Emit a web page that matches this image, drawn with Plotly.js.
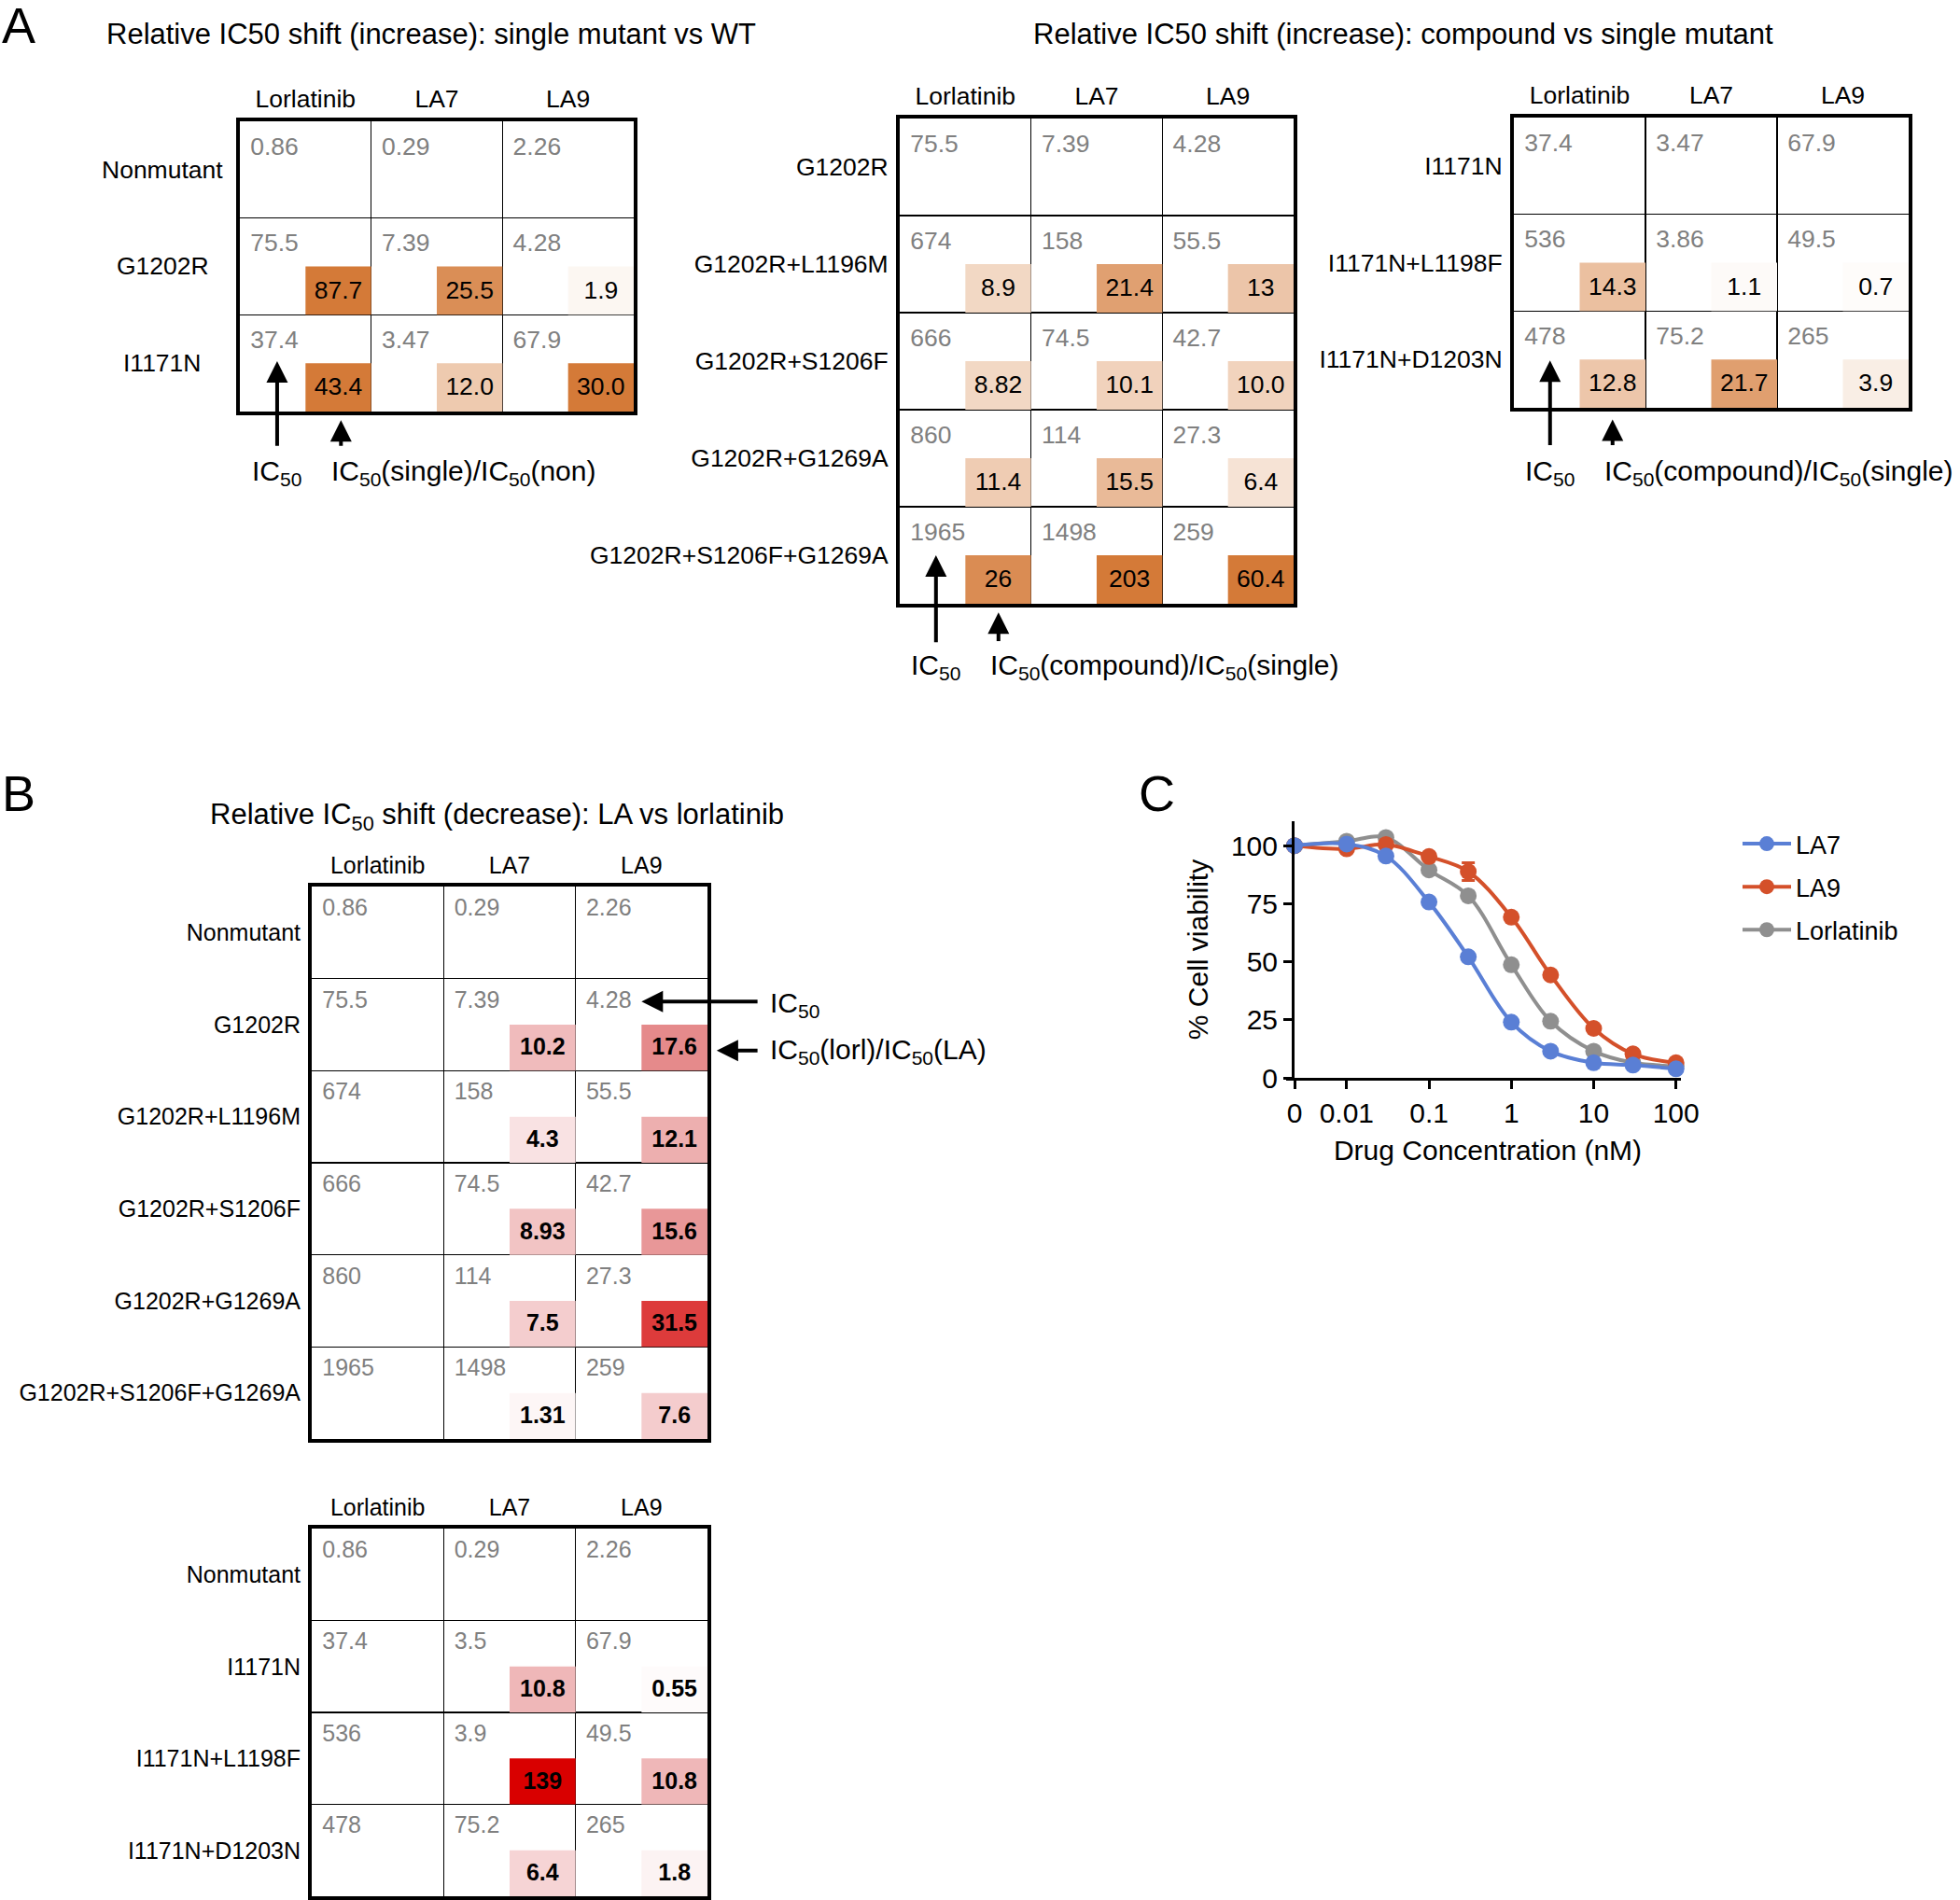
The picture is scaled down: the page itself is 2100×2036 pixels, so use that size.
<!DOCTYPE html>
<html><head><meta charset="utf-8">
<script src="https://cdn.plot.ly/plotly-3.0.1.min.js"></script>
<style>html,body{margin:0;padding:0;background:#fff}#chart{width:2100px;height:2036px}</style>
</head><body><div id="chart"></div><script>
// ---------------- DATA ----------------
const drugs = ['Lorlatinib', 'LA7', 'LA9'];

// Panel A (left): single mutant vs WT
const a1Rows = ['Nonmutant', 'G1202R', 'I1171N'];
const a1IC50 = [['0.86','0.29','2.26'], ['75.5','7.39','4.28'], ['37.4','3.47','67.9']];
const a1Ratio = [[null,null,null], ['87.7','25.5','1.9'], ['43.4','12.0','30.0']];

// Panel A (middle): compound vs single mutant (G1202R)
const a2Rows = ['G1202R', 'G1202R+L1196M', 'G1202R+S1206F', 'G1202R+G1269A', 'G1202R+S1206F+G1269A'];
const a2IC50 = [['75.5','7.39','4.28'], ['674','158','55.5'], ['666','74.5','42.7'], ['860','114','27.3'], ['1965','1498','259']];
const a2Ratio = [[null,null,null], ['8.9','21.4','13'], ['8.82','10.1','10.0'], ['11.4','15.5','6.4'], ['26','203','60.4']];

// Panel A (right): compound vs single mutant (I1171N)
const a3Rows = ['I1171N', 'I1171N+L1198F', 'I1171N+D1203N'];
const a3IC50 = [['37.4','3.47','67.9'], ['536','3.86','49.5'], ['478','75.2','265']];
const a3Ratio = [[null,null,null], ['14.3','1.1','0.7'], ['12.8','21.7','3.9']];

// Panel B (top): LA vs lorlatinib
const b1Rows = ['Nonmutant', 'G1202R', 'G1202R+L1196M', 'G1202R+S1206F', 'G1202R+G1269A', 'G1202R+S1206F+G1269A'];
const b1IC50 = [['0.86','0.29','2.26'], ['75.5','7.39','4.28'], ['674','158','55.5'], ['666','74.5','42.7'], ['860','114','27.3'], ['1965','1498','259']];
const b1Ratio = [[null,null,null], [null,'10.2','17.6'], [null,'4.3','12.1'], [null,'8.93','15.6'], [null,'7.5','31.5'], [null,'1.31','7.6']];

// Panel B (bottom)
const b2Rows = ['Nonmutant', 'I1171N', 'I1171N+L1198F', 'I1171N+D1203N'];
const b2IC50 = [['0.86','0.29','2.26'], ['37.4','3.5','67.9'], ['536','3.9','49.5'], ['478','75.2','265']];
const b2Ratio = [[null,null,null], [null,'10.8','0.55'], [null,'139','10.8'], [null,'6.4','1.8']];

// Panel C: dose response
const concNM = [0, 0.01, 0.03, 0.1, 0.3, 1, 3, 10, 30, 100];
const viabLA7 = [100, 100.7, 95.5, 75.7, 52.1, 24.0, 11.5, 6.5, 5.5, 3.9];
const viabLA9 = [100, 98.6, 100.5, 95.3, 88.8, 69.2, 44.3, 21.3, 10.3, 6.5];
const viabLor = [100, 101.9, 103.5, 89.5, 78.4, 48.7, 24.4, 11.5, 6.5, 5.1];
const errLA9  = [0, 0, 0, 0, 3.8, 0, 0, 0, 0, 0];
const cTickVals = [0, 0.01, 0.1, 1, 10, 100];
const cTickText = ['0', '0.01', '0.1', '1', '10', '100'];
const yTickVals = [0, 25, 50, 75, 100];

// ---------------- LAYOUT HELPERS ----------------
const W = 2100, H = 2036;
const FONT = 'Liberation Sans, Arial, Helvetica, sans-serif';
const ZERO_POS = Math.pow(10, -2.633); // where concentration 0 is drawn on the broken log axis

const orangeScale = [[0, '#FFFFFF'], [1, '#D47A38']];
const redScale = [[0, '#FFFFFF'], [0.44, '#E58A8B'], [0.79, '#DD3A3A'], [1, '#D90000']];

const tables = [
  {n: 1, rows: a1Rows, ic: a1IC50, ratio: a1Ratio, box: [257, 679, 130, 441], scale: orangeScale, cmax: 30, fs: 26.5, bold: false, centerLabels: true, icY: 0.28},
  {n: 2, rows: a2Rows, ic: a2IC50, ratio: a2Ratio, box: [964, 1386, 127, 647], scale: orangeScale, cmax: 30, fs: 26.5, bold: false, icY: 0.28},
  {n: 3, rows: a3Rows, ic: a3IC50, ratio: a3Ratio, box: [1622, 2045, 126, 437], scale: orangeScale, cmax: 30, fs: 26.5, bold: false, icY: 0.28},
  {n: 4, rows: b1Rows, ic: b1IC50, ratio: b1Ratio, box: [334, 758, 950, 1542], scale: redScale, cmax: 40, fs: 25, bold: true, icY: 0.25},
  {n: 5, rows: b2Rows, ic: b2IC50, ratio: b2Ratio, box: [334, 758, 1638, 2032], scale: redScale, cmax: 40, fs: 25, bold: true, icY: 0.25},
];

function axName(letter, n) { return n === 1 ? letter : letter + n; }
function axKey(letter, n) { return n === 1 ? letter + 'axis' : letter + 'axis' + n; }
function toPaper(t, cx, cy) {
  const [l, r, tp, b] = t.box;
  const cw = (r - l) / 3, rh = (b - tp) / t.rows.length;
  return {x: (l + cx * cw) / W, y: 1 - (tp + cy * rh) / H, cw: cw, rh: rh};
}

const data = [];
const layout = {
  width: W, height: H,
  margin: {l: 0, r: 0, t: 0, b: 0},
  paper_bgcolor: '#fff', plot_bgcolor: 'rgba(0,0,0,0)',
  font: {family: FONT, color: '#000'},
  showlegend: true,
  barmode: 'overlay',
  annotations: [], shapes: [],
};

tables.forEach(t => {
  const n = t.n, nr = t.rows.length;
  const xa = axName('x', n), ya = axName('y', n);
  // colored ratio boxes (bars occupying lower-right quarter of each cell)
  const bx = [], bbase = [], bh = [], bc = [], tx = [], ty = [], tt = [];
  t.ratio.forEach((row, i) => row.forEach((v, j) => {
    if (v === null) return;
    bx.push(j + 0.75); bbase.push(i + 0.5); bh.push(0.5); bc.push(parseFloat(v));
    tx.push(j + 0.75); ty.push(i + 0.765); tt.push(v);
  }));
  data.push({
    type: 'bar', x: bx, y: bh, base: bbase, width: 0.5, xaxis: xa, yaxis: ya,
    marker: {color: bc, colorscale: t.scale, cmin: 0, cmax: t.cmax, showscale: false, line: {width: 0}},
    hoverinfo: 'skip', showlegend: false,
  });
  // IC50 values (gray, upper left)
  const ix = [], iy = [], it = [];
  t.ic.forEach((row, i) => row.forEach((v, j) => { ix.push(j + 0.08); iy.push(i + t.icY); it.push(v); }));
  data.push({
    type: 'scatter', mode: 'text', x: ix, y: iy, text: it, textposition: 'middle right',
    textfont: {family: FONT, size: t.fs, color: '#808080'}, xaxis: xa, yaxis: ya,
    hoverinfo: 'skip', showlegend: false,
  });
  // ratio values
  data.push({
    type: 'scatter', mode: 'text', x: tx, y: ty, text: tt, textposition: 'middle center',
    textfont: {family: FONT, size: t.fs, color: '#000', weight: t.bold ? 'bold' : 'normal'},
    xaxis: xa, yaxis: ya, hoverinfo: 'skip', showlegend: false,
  });
  const [l, r, tp, b] = t.box;
  const centers = t.rows.map((_, i) => i + 0.5);
  layout[axKey('x', n)] = {
    domain: [l / W, r / W], range: [0, 3], anchor: ya, side: 'top',
    tickmode: 'array', tickvals: [0.5, 1.5, 2.5], ticktext: drugs, ticks: '',
    tickfont: {family: FONT, size: t.fs, color: '#000'}, ticklabelstandoff: 0,
    showgrid: false, zeroline: false,
    minor: {tickmode: 'array', tickvals: [1, 2], showgrid: true, gridcolor: '#000', gridwidth: 1.5, ticks: ''},
    showline: true, mirror: true, linecolor: '#000', linewidth: 4, fixedrange: true, layer: 'above traces',
  };
  layout[axKey('y', n)] = {
    domain: [1 - b / H, 1 - tp / H], range: [nr, 0], anchor: xa,
    tickmode: 'array', tickvals: centers, ticktext: t.centerLabels ? t.rows.map(() => '') : t.rows, ticks: '',
    tickfont: {family: FONT, size: t.fs, color: '#000'}, ticklabelstandoff: 3,
    showgrid: false, zeroline: false,
    minor: {tickmode: 'array', tickvals: t.rows.slice(1).map((_, i) => i + 1), showgrid: true, gridcolor: '#000', gridwidth: 1.5, ticks: ''},
    showline: true, mirror: true, linecolor: '#000', linewidth: 4, fixedrange: true, layer: 'above traces',
  };
  if (t.centerLabels) {
    t.rows.forEach((lab, i) => {
      const p = toPaper(t, -0.59, i + 0.5);
      layout.annotations.push({xref: 'paper', yref: 'paper', x: p.x, y: p.y, xanchor: 'center', yanchor: 'middle',
        text: lab, showarrow: false, font: {family: FONT, size: t.fs, color: '#000'}});
    });
  }
});

// ---- arrows and their labels ----
function arrowUp(t, cx, headY, tailY) {
  const p = toPaper(t, cx, headY);
  layout.annotations.push({xref: 'paper', yref: 'paper', x: p.x, y: p.y, ax: 0, ay: (tailY - headY) * p.rh,
    text: '', showarrow: true, arrowhead: 2, arrowsize: 1.15, arrowwidth: 4, arrowcolor: '#000', standoff: 0, startstandoff: 0});
}
function arrowLeft(t, headX, tailX, cy) {
  const p = toPaper(t, headX, cy);
  layout.annotations.push({xref: 'paper', yref: 'paper', x: p.x, y: p.y, ax: (tailX - headX) * p.cw, ay: 0,
    text: '', showarrow: true, arrowhead: 2, arrowsize: 1.15, arrowwidth: 4, arrowcolor: '#000', standoff: 0, startstandoff: 0});
}
function label(t, cx, cy, text, anchor) {
  const p = toPaper(t, cx, cy);
  layout.annotations.push({xref: 'paper', yref: 'paper', x: p.x, y: p.y, xanchor: anchor, yanchor: 'middle',
    text: text, showarrow: false, font: {family: FONT, size: 30, color: '#000'}});
}
const IC = 'IC<sub>50</sub>';
// A left
arrowUp(tables[0], 0.284, 2.48, 3.37);
arrowUp(tables[0], 0.77, 3.09, 3.37);
label(tables[0], 0.284, 3.63, IC, 'center');
label(tables[0], 0.686, 3.63, IC + '(single)/' + IC + '(non)', 'left');
// A middle
arrowUp(tables[1], 0.276, 4.50, 5.41);
arrowUp(tables[1], 0.752, 5.09, 5.40);
label(tables[1], 0.276, 5.65, IC, 'center');
label(tables[1], 0.676, 5.65, IC + '(compound)/' + IC + '(single)', 'left');
// A right
arrowUp(tables[2], 0.275, 2.51, 3.40);
arrowUp(tables[2], 0.75, 3.12, 3.40);
label(tables[2], 0.275, 3.67, IC, 'center');
label(tables[2], 0.674, 3.67, IC + '(compound)/' + IC + '(single)', 'left');
// B top
arrowLeft(tables[3], 2.50, 3.39, 1.25);
arrowLeft(tables[3], 3.07, 3.39, 1.78);
label(tables[3], 3.46, 1.28, IC, 'left');
label(tables[3], 3.46, 1.79, IC + '(lorl)/' + IC + '(LA)', 'left');

// ---- titles and panel letters ----
function paperText(x, y, text, size, anchor) {
  layout.annotations.push({xref: 'paper', yref: 'paper', x: x / W, y: 1 - y / H, xanchor: anchor || 'center', yanchor: 'middle',
    text: text, showarrow: false, font: {family: FONT, size: size, color: '#000'}});
}
paperText(0, 27, 'A', 54, 'left');
paperText(0, 850, 'B', 54, 'left');
paperText(1218, 850, 'C', 54, 'left');
paperText(462, 36, 'Relative IC50 shift (increase): single mutant vs WT', 31);
paperText(1503, 36, 'Relative IC50 shift (increase): compound vs single mutant', 31);
paperText(532, 875, 'Relative IC<sub>50</sub> shift (decrease): LA vs lorlatinib', 31);

// ---------------- PANEL C ----------------
const cx = concNM.map(c => c === 0 ? ZERO_POS : c);
const cTicks = cTickVals.map(c => c === 0 ? ZERO_POS : c);
const series = [
  {name: 'Lorlatinib', y: viabLor, color: '#8F8F8F', err: null, rank: 3},
  {name: 'LA9', y: viabLA9, color: '#D4502A', err: errLA9, rank: 2},
  {name: 'LA7', y: viabLA7, color: '#5A7FD5', err: null, rank: 1},
];
series.forEach(s => {
  const tr = {
    type: 'scatter', mode: 'lines+markers', name: s.name, x: cx, y: s.y, xaxis: 'x6', yaxis: 'y6',
    line: {color: s.color, width: 4, shape: 'spline', smoothing: 1},
    marker: {color: s.color, size: 18}, cliponaxis: false, legendgroup: s.name, legendrank: s.rank,
  };
  if (s.err) tr.error_y = {type: 'data', array: s.err, visible: true, color: s.color, thickness: 3, width: 7};
  data.push(tr);
});
const axisY = 1155; // pixel row of x axis
layout.xaxis6 = {
  type: 'log', domain: [1387 / W, 1801 / W], range: [-2.633, 2.06], anchor: 'y6',
  tickmode: 'array', tickvals: cTicks, ticktext: cTickText, ticks: 'outside', ticklen: 9, tickwidth: 3, tickcolor: '#000',
  showline: true, linewidth: 3, linecolor: '#000', showgrid: false, zeroline: false,
  tickfont: {family: FONT, size: 30, color: '#000'},
  title: {text: 'Drug Concentration (nM)', font: {family: FONT, size: 30, color: '#000'}, standoff: 14},
  fixedrange: true,
};
layout.yaxis6 = {
  domain: [1 - axisY / H, 1 - 880 / H], range: [0, 110.5], anchor: 'x6',
  tickmode: 'array', tickvals: yTickVals, ticks: 'outside', ticklen: 9, tickwidth: 3, tickcolor: '#000',
  showline: true, linewidth: 3, linecolor: '#000', showgrid: false, zeroline: false,
  tickfont: {family: FONT, size: 30, color: '#000'},
  title: {text: '% Cell viability', font: {family: FONT, size: 30, color: '#000'}, standoff: 16},
  fixedrange: true,
};
// x axis short overhang left of the y axis
layout.shapes.push({type: 'line', xref: 'paper', yref: 'paper', x0: 1378 / W, x1: 1388 / W, y0: 1 - axisY / H - 1.5 / H, y1: 1 - axisY / H - 1.5 / H,
  line: {color: '#000', width: 3}, layer: 'above'});
// axis break on x axis between 0 and 0.01
layout.shapes.push({type: 'rect', xref: 'x6', yref: 'paper', x0: -2.275, x1: -2.2, y0: 1 - (axisY + 4) / H, y1: 1 - (axisY - 3) / H,
  fillcolor: '#fff', line: {width: 0}, layer: 'above'});
[-2.283, -2.192].forEach(v => layout.shapes.push({type: 'line', xref: 'x6', yref: 'paper', x0: v, x1: v,
  y0: 1 - (axisY + 8) / H, y1: 1 - (axisY - 6) / H, line: {color: '#000', width: 3}, layer: 'above'}));

layout.legend = {
  x: 1862 / W, y: 1 - 880 / H, xanchor: 'left', yanchor: 'top', traceorder: 'grouped', tracegroupgap: 8,
  font: {family: FONT, size: 27, color: '#000'}, bgcolor: 'rgba(0,0,0,0)', itemwidth: 52,
};

Plotly.newPlot('chart', data, layout, {staticPlot: true, displayModeBar: false});
</script></body></html>
